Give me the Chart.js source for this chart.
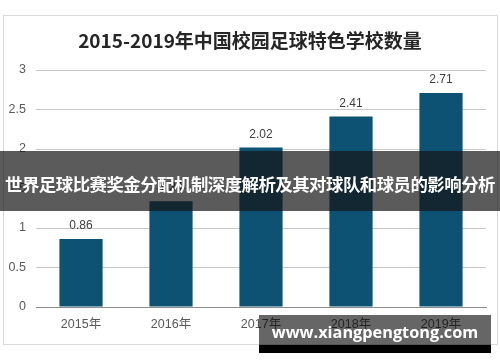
<!DOCTYPE html>
<html>
<head>
<meta charset="utf-8">
<script src="https://cdn.jsdelivr.net/npm/chart.js@4/dist/chart.umd.min.js"></script>
<style>
  body { margin: 0; background: #fff; }
  #wrap { position: relative; width: 500px; height: 362px; overflow: hidden; }
  #banner {
    position: absolute; left: 0; top: 151px; width: 500px; height: 60px;
    background: rgba(22, 22, 22, 0.7); color: #fff;
    font: bold 17.4px "Noto Sans CJK SC", sans-serif;
    line-height: 66px; text-align: center; white-space: nowrap; letter-spacing: -0.5px;
  }
  #mark {
    position: absolute; left: 259px; top: 315px; width: 232px; height: 30px;
    background: rgba(0, 0, 0, 0.6); color: #fff;
    font: bold 16.3px "Open Sans", "DejaVu Sans", sans-serif;
    line-height: 34px; text-align: center; white-space: nowrap;
  }
  #markBar { position: absolute; left: 259px; top: 345px; width: 232px; height: 8px; background: #000; }
</style>
</head>
<body>
<div id="wrap">
  <canvas id="chart" width="500" height="362"></canvas>
  <div id="banner">世界足球比赛奖金分配机制深度解析及其对球队和球员的影响分析</div>
  <div id="mark">www.xiangpengtong.com</div>
  <div id="markBar"></div>
</div>
<script>
// ===== Data (万所) =====
const years = ['2015年', '2016年', '2017年', '2018年', '2019年'];
const schools = [0.86, 1.34, 2.02, 2.41, 2.71];
const yTicks = [0, 0.5, 1, 1.5, 2, 2.5, 3];
const chartTitle = '2015-2019年中国校园足球特色学校数量';

const fontFamily = '"Liberation Sans", Arial, "Noto Sans CJK SC", sans-serif';

// frame + title
const framePlugin = {
    id: 'frame',
    beforeDraw(chart) {
        const ctx = chart.ctx;
        ctx.save();
        ctx.fillStyle = '#fff';
        ctx.fillRect(0, 0, chart.width, chart.height);
        ctx.strokeStyle = '#d9d9d9';
        ctx.lineWidth = 1;
        ctx.strokeRect(3.5, 15.5, 494, 329);
        ctx.fillStyle = '#262626';
        ctx.font = 'bold 19px "Noto Sans CJK SC", sans-serif';
        ctx.textAlign = 'center';
        ctx.textBaseline = 'middle';
        ctx.fillText(chartTitle, 250, 41);
        ctx.restore();
    }
};

// value labels above bars
const labelPlugin = {
    id: 'valueLabels',
    afterDatasetsDraw(chart) {
        const ctx = chart.ctx;
        const meta = chart.getDatasetMeta(0);
        ctx.save();
        ctx.fillStyle = '#404040';
        ctx.font = '12px ' + fontFamily;
        ctx.textAlign = 'center';
        ctx.textBaseline = 'middle';
        meta.data.forEach((bar, i) => {
            ctx.fillText(schools[i].toFixed(2), bar.x, bar.y - 13);
        });
        ctx.restore();
    }
};

new Chart(document.getElementById('chart').getContext('2d'), {
    type: 'bar',
    data: {
        labels: years,
        datasets: [{
            data: schools,
            backgroundColor: '#0d5273',
            borderWidth: 0,
            categoryPercentage: 1,
            barPercentage: 0.48
        }]
    },
    options: {
        responsive: false,
        animation: false,
        layout: { padding: { top: 70, right: 14, bottom: 25, left: 0 } },
        plugins: { legend: { display: false }, title: { display: false }, tooltip: { enabled: false } },
        scales: {
            x: {
                grid: { display: false, drawTicks: false },
                border: { color: '#8c8c8c', width: 1 },
                ticks: { color: '#595959', font: { size: 12.5, family: fontFamily }, padding: 10 },
                afterFit: s => { s.height = 30; }
            },
            y: {
                min: 0, max: 3,
                afterBuildTicks: s => { s.ticks = yTicks.map(v => ({ value: v })); },
                grid: { color: '#c8c8c8', drawTicks: false },
                border: { display: false },
                ticks: {
                    color: '#595959', font: { size: 12.5, family: fontFamily }, padding: 10,
                    callback: v => String(v)
                },
                afterFit: s => { s.width = 36; }
            }
        }
    },
    plugins: [framePlugin, labelPlugin]
});
</script>
</body>
</html>
